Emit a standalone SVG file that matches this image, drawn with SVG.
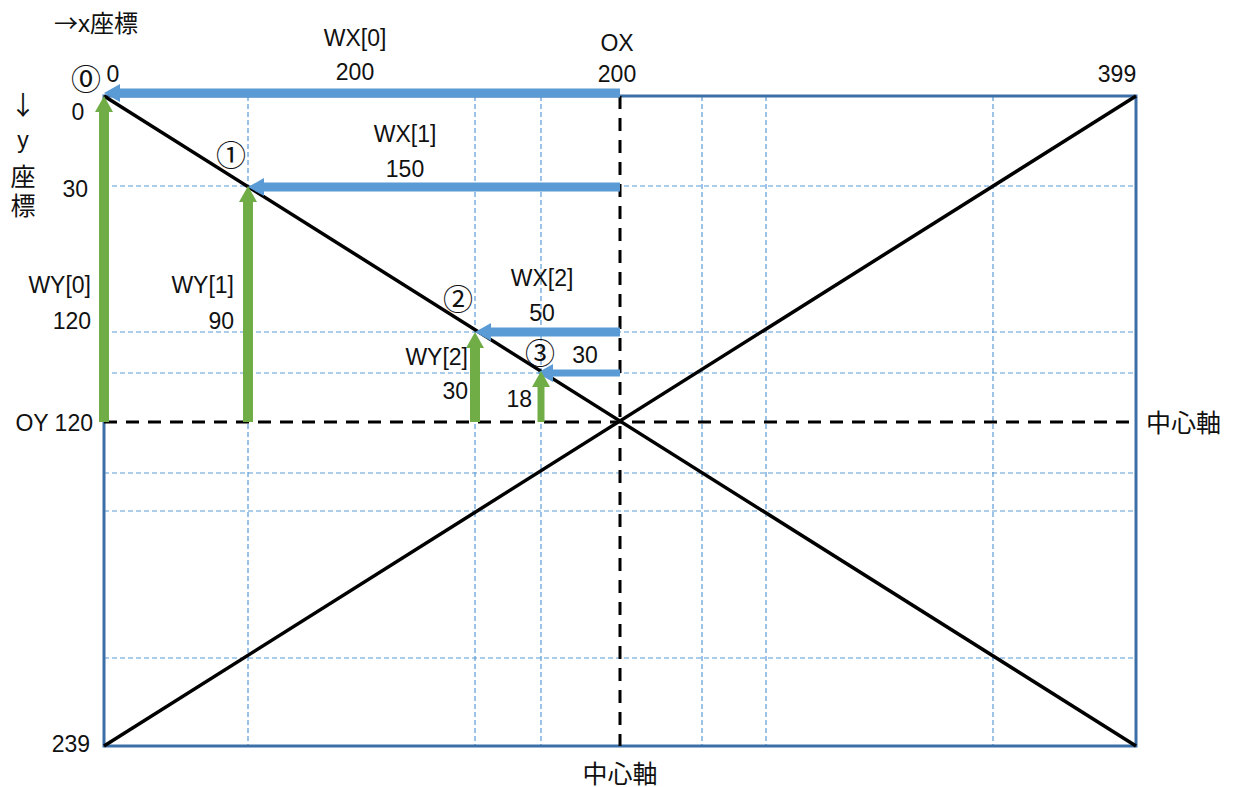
<svg xmlns="http://www.w3.org/2000/svg" width="1244" height="787" viewBox="0 0 1244 787">
<style>
text{font-family:"Liberation Sans","Noto Sans CJK JP",sans-serif;font-size:23px;fill:#111}
.m{text-anchor:middle}.r{text-anchor:end}
.c{font-family:"Noto Sans CJK JP",sans-serif;font-size:30px}
.j{font-size:25px}
.grid{stroke:#5B9BD5;stroke-width:1.2;stroke-dasharray:5 3;fill:none}
.box{stroke:#3C6FA8;stroke-width:3;fill:none}
.diag{stroke:#000;stroke-width:3.5}
.axis{stroke:#000;stroke-width:3;stroke-dasharray:13 9}
.bx{stroke:#5B9BD5;stroke-width:9}
.gy{stroke:#70AD47;stroke-width:10}
</style>
<defs>
<marker id="ab" markerUnits="userSpaceOnUse" viewBox="0 0 16 18" refX="0" refY="9" markerWidth="16" markerHeight="18" orient="auto"><path d="M0,0 L16,9 L0,18 z" fill="#5B9BD5"/></marker>
<marker id="ag" markerUnits="userSpaceOnUse" viewBox="0 0 16 18" refX="0" refY="9" markerWidth="16" markerHeight="18" orient="auto"><path d="M0,0 L16,9 L0,18 z" fill="#70AD47"/></marker>
</defs>
<rect width="1244" height="787" fill="#fff"/>
<g id="grid">
<path class="grid" d="M248,96V746M475,96V746M541,96V746M702,96V746M766,96V746M993,96V746"/>
<path class="grid" d="M104,186H1136M104,332H1136M104,373H1136M104,473H1136M104,511H1136M104,658H1136"/>
</g>
<g id="frame">
<rect class="box" x="104" y="96" width="1032" height="650"/>
<line class="diag" x1="104" y1="96" x2="1136" y2="746"/>
<line class="diag" x1="104" y1="746" x2="1136" y2="96"/>
<line class="axis" x1="620" y1="96" x2="620" y2="746"/>
<line class="axis" x1="104" y1="422" x2="1136" y2="422"/>
</g>
<g id="connectors">
<line class="bx" x1="620" y1="93" x2="120" y2="93" marker-end="url(#ab)"/>
<line class="bx" x1="620" y1="187" x2="264" y2="187" marker-end="url(#ab)"/>
<line class="bx" x1="620" y1="332" x2="491" y2="332" marker-end="url(#ab)"/>
<line class="bx" x1="620" y1="373" x2="553" y2="373" style="stroke-width:7" marker-end="url(#ab)"/>
<line class="gy" x1="104" y1="422" x2="104" y2="112" marker-end="url(#ag)"/>
<line class="gy" x1="248" y1="422" x2="248" y2="202" marker-end="url(#ag)"/>
<line class="gy" x1="475" y1="422" x2="475" y2="348" marker-end="url(#ag)"/>
<line class="gy" x1="541" y1="422" x2="541" y2="387" style="stroke-width:7" marker-end="url(#ag)"/>
</g>
<g id="labels">
<text x="54" y="32" style="font-size:24px"><tspan style="font-family:'Noto Sans CJK JP',sans-serif">→</tspan>x座標</text>
<text class="m" x="355" y="46">WX[0]</text>
<text class="m" x="355" y="80">200</text>
<text class="m" x="617" y="51">OX</text>
<text class="m" x="617" y="82">200</text>
<text class="m c" x="86" y="90">⓪</text>
<text class="m" x="113" y="82">0</text>
<text class="m" x="1117" y="82">399</text>
<text class="m c" x="23" y="115" style="font-size:26px">↓</text>
<text class="m" x="23" y="148">y</text>
<text class="m j" x="23" y="186">座</text>
<text class="m j" x="23" y="215">標</text>
<text class="m" x="78" y="120">0</text>
<text class="r" x="88" y="197">30</text>
<text class="m c" x="231" y="166">①</text>
<text class="m" x="405" y="142">WX[1]</text>
<text class="m" x="405" y="177">150</text>
<text class="r" x="91" y="293">WY[0]</text>
<text class="r" x="91" y="329">120</text>
<text class="r" x="234" y="293">WY[1]</text>
<text class="r" x="234" y="329">90</text>
<text class="m c" x="458" y="310">②</text>
<text class="m" x="542" y="286">WX[2]</text>
<text class="m" x="542" y="321">50</text>
<text class="r" x="468" y="365">WY[2]</text>
<text class="r" x="468" y="399">30</text>
<text class="m c" x="540" y="364">③</text>
<text class="m" x="585" y="363">30</text>
<text class="r" x="532" y="407">18</text>
<text class="r" x="93" y="431">OY 120</text>
<text class="j" x="1146" y="432">中心軸</text>
<text class="r" x="90" y="752">239</text>
<text class="m j" x="620" y="783">中心軸</text>
</g>
</svg>
